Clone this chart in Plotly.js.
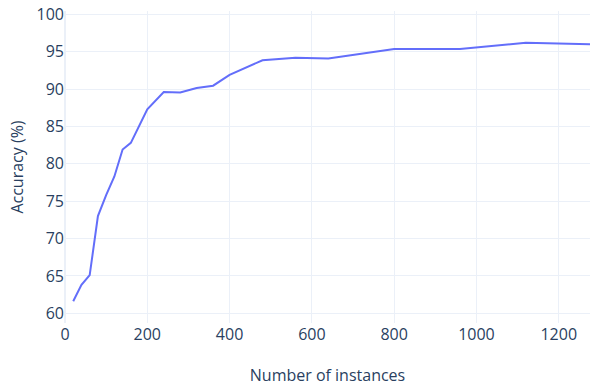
<!DOCTYPE html>
<html>
<head>
<meta charset="utf-8">
<script src="https://cdn.plot.ly/plotly-3.0.1.min.js"></script>
<style>html,body{margin:0;padding:0;background:#fff;}#chart{width:590px;height:390px;}</style>
</head>
<body>
<div id="chart"></div>
<script>
const instances = [20, 40, 60, 80, 100, 120, 140, 160, 200, 240, 280, 320, 360, 400, 480, 560, 640, 800, 960, 1120, 1280];
const accuracy = [61.6, 63.8, 65.1, 73.0, 75.8, 78.3, 81.9, 82.8, 87.3, 89.6, 89.55, 90.15, 90.45, 91.9, 93.85, 94.2, 94.1, 95.35, 95.35, 96.2, 96.0];
const xTitle = "Number of instances";
const yTitle = "Accuracy (%)";

const trace = {
  x: instances,
  y: accuracy,
  type: 'scatter',
  mode: 'lines',
  line: {color: '#636efa', width: 2}
};
const layout = {
  width: 590,
  height: 390,
  margin: {l: 65, r: 0, t: 11, b: 67},
  paper_bgcolor: '#fff',
  plot_bgcolor: '#fff',
  font: {family: '"Open Sans", verdana, arial, sans-serif', color: '#2a3f5f', size: 16},
  showlegend: false,
  xaxis: {
    title: {text: xTitle, font: {size: 16}},
    range: [0, 1276],
    dtick: 200,
    gridcolor: '#EBF0F8',
    zerolinecolor: '#EBF0F8',
    zerolinewidth: 2,
    showline: false,
    ticks: '',
    tickfont: {size: 16}
  },
  yaxis: {
    title: {text: yTitle, font: {size: 16}},
    range: [58.7, 100.44],
    dtick: 5,
    gridcolor: '#EBF0F8',
    zerolinecolor: '#EBF0F8',
    zerolinewidth: 2,
    showline: false,
    ticks: '',
    tickfont: {size: 16}
  }
};
Plotly.newPlot('chart', [trace], layout, {displayModeBar: false, staticPlot: true});
</script>
</body>
</html>
